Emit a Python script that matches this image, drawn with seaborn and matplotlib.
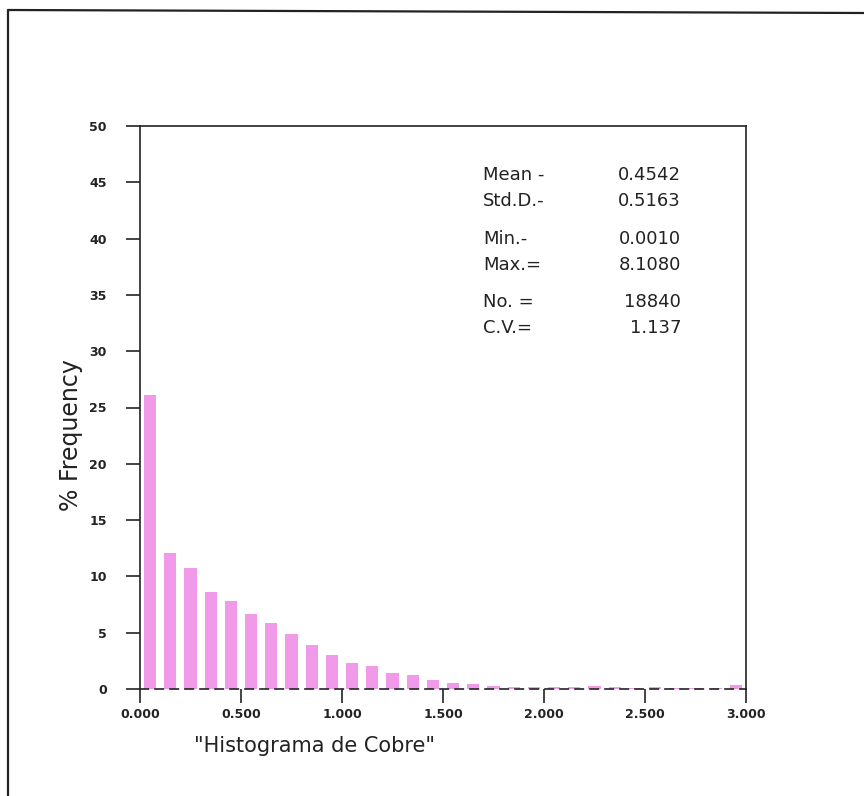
import matplotlib
matplotlib.use("Agg")
import matplotlib.pyplot as plt
from matplotlib.lines import Line2D
import numpy as np
import seaborn as sns

# Copper grade histogram: bins of 0.1, percentage frequency per bin
bin_edges = [0.0, 0.1, 0.2, 0.3, 0.4, 0.5, 0.6, 0.7, 0.8, 0.9, 1.0,
             1.1, 1.2, 1.3, 1.4, 1.5, 1.6, 1.7, 1.8, 1.9, 2.0,
             2.1, 2.2, 2.3, 2.4, 2.5, 2.6, 2.7, 2.8, 2.9, 3.0]
freq_pct = [26.15, 12.1, 10.75, 8.6, 7.8, 6.7, 5.9, 4.85, 3.9, 3.0,
            2.35, 2.0, 1.45, 1.25, 0.8, 0.5, 0.4, 0.3, 0.2, 0.15,
            0.2, 0.2, 0.25, 0.15, 0.1, 0.15, 0.1, 0.1, 0.1, 0.35]

x_ticks = [0.0, 0.5, 1.0, 1.5, 2.0, 2.5, 3.0]
x_ticklabels = ["0.000", "0.500", "1.000", "1.500", "2.000", "2.500", "3.000"]
y_ticks = [0, 5, 10, 15, 20, 25, 30, 35, 40, 45, 50]

stat_names = ["Mean -", "Std.D.-", "Min.-", "Max.=", "No. =", "C.V.="]
stat_values = ["0.4542", "0.5163", "0.0010", "8.1080", "18840", "1.137"]

sns.set_style("ticks")
plt.rcParams["font.family"] = ["DejaVu Sans"]

W, H = 864, 796
fig = plt.figure(figsize=(W / 100, H / 100), dpi=100)
ax = fig.add_axes([140 / W, 1 - 689 / H, 606 / W, 563 / H])

centers = [(a + b) / 2 for a, b in zip(bin_edges[:-1], bin_edges[1:])]
sns.histplot(x=centers, weights=freq_pct, bins=bin_edges, shrink=0.6,
             color="#F29AEA", alpha=1.0, linewidth=0, ax=ax)

ax.set_xlim(0, 3.0)
ax.set_ylim(0, 50)
ax.set_xticks(x_ticks)
ax.set_xticklabels(x_ticklabels)
ax.set_yticks(y_ticks)
ax.set_xlabel("")
ax.set_ylabel("")

for side in ["left", "top", "right"]:
    ax.spines[side].set_visible(True)
    ax.spines[side].set_linewidth(1.2)
    ax.spines[side].set_color("#222222")
ax.spines["bottom"].set_linewidth(1.2)
ax.spines["bottom"].set_color("#222222")
ax.spines["bottom"].set_linestyle((0, (5, 4)))

ax.tick_params(axis="y", direction="out", length=10, width=1.2, pad=14,
               labelsize=9, colors="#222222")
ax.tick_params(axis="x", direction="out", length=10, width=1.2, pad=4,
               labelsize=9, colors="#222222")
for lab in ax.get_xticklabels() + ax.get_yticklabels():
    lab.set_fontweight("bold")

# Summary statistics block
row_y = [175, 201, 239, 265, 302, 328]
for name, val, yy in zip(stat_names, stat_values, row_y):
    fig.text(483 / W, 1 - yy / H, name, ha="left", va="center",
             fontsize=13, color="#222222")
    fig.text(681 / W, 1 - yy / H, val, ha="right", va="center",
             fontsize=13, color="#222222")

fig.text(315 / W, 1 - 746 / H, '"Histograma de Cobre"', ha="center",
         va="center", fontsize=15, color="#222222")
fig.text(71 / W, 1 - 435 / H, "% Frequency", ha="center", va="center",
         rotation=90, fontsize=17, color="#222222")

# Page frame
fig.add_artist(Line2D([8 / W, 1.0], [1 - 10 / H, 1 - 13 / H],
                      transform=fig.transFigure, color="#222222", lw=1.6))
fig.add_artist(Line2D([8 / W, 8 / W], [1 - 10 / H, 0.0],
                      transform=fig.transFigure, color="#222222", lw=1.6))

fig.savefig("out.png", dpi=100, facecolor="white")
